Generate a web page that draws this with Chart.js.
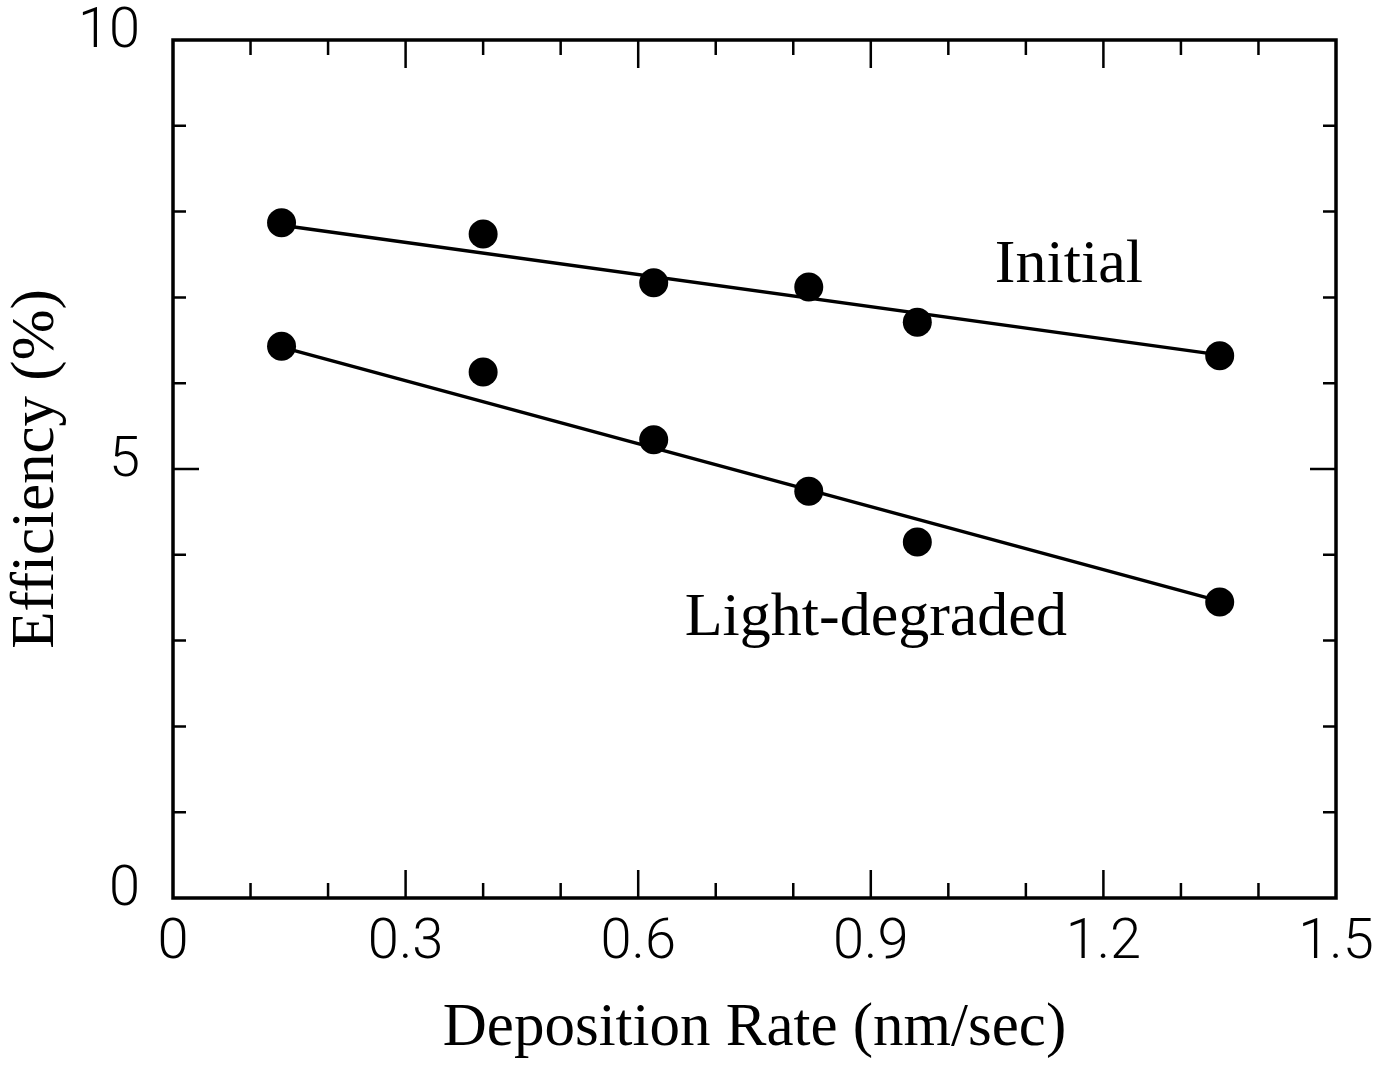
<!DOCTYPE html>
<html><head><meta charset="utf-8">
<script src="https://cdn.jsdelivr.net/npm/chart.js@4/dist/chart.umd.min.js"></script>
<style>html,body{margin:0;padding:0;background:#fff;} #wrap{width:1392px;height:1066px;}</style>
</head><body><div id="wrap"><canvas id="c" width="1392" height="1066"></canvas></div>
<script>
// ---- data ----
const depositionRate = [0.14, 0.40, 0.62, 0.82, 0.96, 1.35];
const initialEff     = [7.87, 7.74, 7.17, 7.12, 6.71, 6.32];
const degradedEff    = [6.43, 6.13, 5.34, 4.74, 4.15, 3.45];
const fitRate        = [0.14, 1.35];
const initialFit     = [7.84, 6.33];
const degradedFit    = [6.42, 3.46];
const xTickLabels = ['0', '0.3', '0.6', '0.9', '1.2', '1.5'];
const yTickLabels = ['0', '5', '10'];
const seriesNames = ['Initial', 'Light-degraded'];
const xTitle = 'Deposition Rate (nm/sec)';
const yTitle = 'Efficiency (%)';

const pts = (xs, ys) => xs.map((x, i) => ({x: x, y: ys[i]}));

const SERIF = '"Liberation Serif", "Times New Roman", serif';
const SANS = 'Roboto, "Liberation Sans", sans-serif';

const framePlugin = {
  id: 'frame',
  beforeDatasetsDraw(chart) {
    const {ctx, chartArea: a, scales: {x, y}} = chart;
    ctx.save();
    ctx.strokeStyle = '#000';
    ctx.lineWidth = 3.5;
    ctx.strokeRect(a.left, a.top, a.right - a.left, a.bottom - a.top);
    ctx.lineWidth = 2.5;
    ctx.beginPath();
    x.ticks.forEach(t => {
      const k = Math.round(t.value * 10);
      if (k <= 0 || k >= 15) return;
      const px = x.getPixelForValue(t.value);
      const len = (k % 3 === 0) ? 28 : 15;
      ctx.moveTo(px, a.bottom); ctx.lineTo(px, a.bottom - len);
      ctx.moveTo(px, a.top); ctx.lineTo(px, a.top + len);
    });
    y.ticks.forEach(t => {
      const v = Math.round(t.value);
      if (v <= 0 || v >= 10) return;
      const py = y.getPixelForValue(t.value);
      const len = (v % 5 === 0) ? 26 : 13;
      ctx.moveTo(a.left, py); ctx.lineTo(a.left + len, py);
      ctx.moveTo(a.right, py); ctx.lineTo(a.right - len, py);
    });
    ctx.stroke();
    ctx.restore();
  },
  afterDatasetsDraw(chart, args, opts) {
    const {ctx, scales: {x, y}} = chart;
    ctx.save();
    ctx.fillStyle = '#000';
    ctx.font = '62px ' + SERIF;
    ctx.textBaseline = 'alphabetic';
    ctx.textAlign = 'left';
    (opts.labels || []).forEach(l => {
      ctx.fillText(l.text, x.getPixelForValue(l.x), y.getPixelForValue(l.y));
    });
    ctx.restore();
  }
};

new Chart(document.getElementById('c'), {
  type: 'scatter',
  data: {
    datasets: [
      {label: seriesNames[0], data: pts(depositionRate, initialEff), pointRadius: 14.5, pointHoverRadius: 14.5,
       backgroundColor: '#000', borderColor: '#000', borderWidth: 0, showLine: false},
      {label: seriesNames[1], data: pts(depositionRate, degradedEff), pointRadius: 14.5, pointHoverRadius: 14.5,
       backgroundColor: '#000', borderColor: '#000', borderWidth: 0, showLine: false},
      {label: seriesNames[0] + ' fit', data: pts(fitRate, initialFit), showLine: true, pointRadius: 0,
       borderColor: '#000', borderWidth: 3.5, fill: false},
      {label: seriesNames[1] + ' fit', data: pts(fitRate, degradedFit), showLine: true, pointRadius: 0,
       borderColor: '#000', borderWidth: 3.5, fill: false}
    ]
  },
  options: {
    responsive: false,
    animation: false,
    devicePixelRatio: 1,
    layout: {padding: {left: 0, right: 56, top: 40, bottom: 0}},
    plugins: {
      legend: {display: false},
      tooltip: {enabled: false},
      frame: {labels: [
        {text: seriesNames[0], x: 1.060, y: 7.18},
        {text: seriesNames[1], x: 0.660, y: 3.07}
      ]}
    },
    scales: {
      x: {
        type: 'linear', min: 0, max: 1.5,
        grid: {display: false, drawTicks: false},
        border: {display: false},
        ticks: {
          stepSize: 0.1, autoSkip: false, maxRotation: 0, padding: 18,
          color: '#000', font: {family: SANS, size: 56, weight: 300, lineHeight: 1},
          callback: v => { const k = Math.round(v * 10); return k % 3 === 0 ? xTickLabels[k / 3] : ''; }
        },
        title: {display: true, text: xTitle, color: '#000',
                font: {family: SERIF, size: 61, lineHeight: 1.2}, padding: {top: 0, bottom: 0}},
        afterFit: s => { s.height = 168; s.paddingLeft = 0; s.paddingRight = 0; }
      },
      y: {
        type: 'linear', min: 0, max: 10,
        grid: {display: false, drawTicks: false},
        border: {display: false},
        ticks: {
          stepSize: 1, autoSkip: false, padding: 33, labelOffset: -7,
          color: '#000', font: {family: SANS, size: 56, weight: 300, lineHeight: 1},
          callback: v => (Math.round(v) % 5 === 0 ? yTickLabels[Math.round(v) / 5] : '')
        },
        title: {display: true, text: yTitle, color: '#000',
                font: {family: SERIF, size: 61, lineHeight: 1.2}, padding: {top: 0, bottom: 0}},
        afterFit: s => { s.width = 173; s.paddingTop = 0; s.paddingBottom = 0; }
      }
    }
  },
  plugins: [framePlugin]
});
</script>
</body></html>
